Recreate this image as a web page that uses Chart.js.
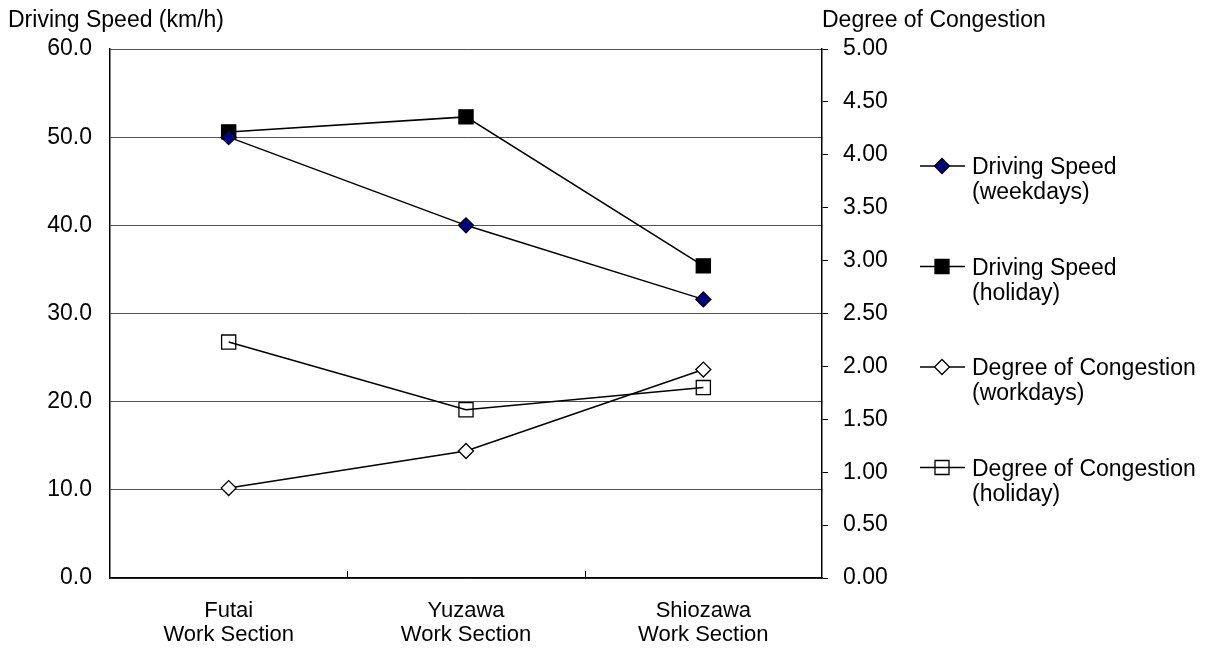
<!DOCTYPE html>
<html>
<head>
<meta charset="utf-8">
<script src="https://cdn.jsdelivr.net/npm/chart.js@4/dist/chart.umd.min.js"></script>
<style>
  body { margin: 0; background: #fff; }
  #wrap { width: 1212px; height: 653px; }
</style>
</head>
<body>
<div id="wrap"><canvas id="congestion_chart" width="1212" height="653"></canvas></div>
<script>
// categories (work sections)
const categories = [
  ['Futai', 'Work Section'],
  ['Yuzawa', 'Work Section'],
  ['Shiozawa', 'Work Section'],
]

// driving speed, left axis (km/h)
const speedWeekdays = [50.0, 40.0, 31.6]
const speedHoliday = [50.6, 52.3, 35.4]

// degree of congestion, right axis
const congestionWorkdays = [0.85, 1.2, 1.97]
const congestionHoliday = [2.23, 1.59, 1.8]

const seriesLabels = [
  ['Driving Speed', '(weekdays)'],
  ['Driving Speed', '(holiday)'],
  ['Degree of Congestion', '(workdays)'],
  ['Degree of Congestion', '(holiday)'],
]

const leftTitle = 'Driving Speed (km/h)'
const rightTitle = 'Degree of Congestion'

const FONT = 'Arial, "Liberation Sans", sans-serif'
Chart.defaults.font.family = FONT
Chart.defaults.font.size = 23
Chart.defaults.color = '#000'

// draw one marker the same way for plot and legend
function drawMarker(ctx, style, x, y, fill) {
  ctx.save()
  ctx.beginPath()
  if (style == 'diamond') {
    const r = 7.5
    ctx.moveTo(x - r, y)
    ctx.lineTo(x, y - r)
    ctx.lineTo(x + r, y)
    ctx.lineTo(x, y + r)
    ctx.closePath()
  } else {
    const h = 7
    ctx.rect(x - h, y - h, 2 * h, 2 * h)
  }
  if (fill != 'transparent') {
    ctx.fillStyle = fill
    ctx.fill()
  }
  ctx.lineWidth = 1.3
  ctx.strokeStyle = '#000'
  ctx.stroke()
  ctx.restore()
}

const markerInfo = [
  { style: 'diamond', fill: '#000080' },
  { style: 'square', fill: '#000' },
  { style: 'diamond', fill: '#fff' },
  { style: 'square', fill: 'transparent' },
]

const extrasPlugin = {
  id: 'extras',
  afterDraw(chart) {
    const ctx = chart.ctx
    const area = chart.chartArea
    const xs = chart.scales.x

    // inward category ticks between sections
    ctx.save()
    ctx.strokeStyle = '#000'
    ctx.lineWidth = 1
    for (let i = 0; i < categories.length - 1; i++) {
      const px = Math.round((xs.getPixelForTick(i) + xs.getPixelForTick(i + 1)) / 2) + 0.5
      ctx.beginPath()
      ctx.moveTo(px, area.bottom)
      ctx.lineTo(px, area.bottom - 7)
      ctx.stroke()
    }
    ctx.restore()

    // axis titles on top
    ctx.save()
    ctx.font = '23px ' + FONT
    ctx.fillStyle = '#000'
    ctx.textBaseline = 'middle'
    ctx.textAlign = 'left'
    ctx.fillText(leftTitle, 8, 21)
    ctx.fillText(rightTitle, area.right, 21)
    ctx.restore()

    // legend
    ctx.save()
    ctx.font = '23px ' + FONT
    ctx.fillStyle = '#000'
    ctx.textBaseline = 'middle'
    ctx.textAlign = 'left'
    for (let i = 0; i < seriesLabels.length; i++) {
      const y = area.top + 117 + i * 100.5
      const x0 = area.right + 98
      ctx.beginPath()
      ctx.strokeStyle = '#000'
      ctx.lineWidth = 1.3
      ctx.moveTo(x0, y)
      ctx.lineTo(x0 + 45, y)
      ctx.stroke()
      drawMarker(ctx, markerInfo[i].style, x0 + 22, y, markerInfo[i].fill)
      ctx.fillStyle = '#000'
      ctx.fillText(seriesLabels[i][0], x0 + 52, y + 2)
      ctx.fillText(seriesLabels[i][1], x0 + 52, y + 27)
    }
    ctx.restore()
  },
}

function makeSeries(idx, data, axis) {
  const m = markerInfo[idx]
  return {
    label: seriesLabels[idx].join(' '),
    data: data,
    yAxisID: axis,
    borderColor: '#000',
    borderWidth: 1.5,
    tension: 0,
    pointStyle: m.style == 'diamond' ? 'rectRot' : 'rect',
    pointRadius: m.style == 'diamond' ? 7.5 : 10,
    pointHoverRadius: m.style == 'diamond' ? 7.5 : 10,
    pointBackgroundColor: m.fill == 'transparent' ? 'rgba(0,0,0,0)' : m.fill,
    pointBorderColor: '#000',
    pointBorderWidth: 1.3,
  }
}

const canvas = document.getElementById('congestion_chart')
const config = {
  type: 'line',
  data: {
    labels: categories,
    datasets: [
      makeSeries(0, speedWeekdays, 'y'),
      makeSeries(1, speedHoliday, 'y'),
      makeSeries(2, congestionWorkdays, 'y1'),
      makeSeries(3, congestionHoliday, 'y1'),
    ],
  },
  options: {
    responsive: false,
    animation: false,
    layout: { padding: { top: 49, left: 0, right: 312, bottom: 0 } },
    plugins: {
      legend: { display: false },
      tooltip: { enabled: false },
      title: { display: false },
    },
    scales: {
      x: {
        offset: true,
        grid: { display: true, drawOnChartArea: false, drawTicks: false },
        border: { display: true, color: '#000', width: 1.5 },
        ticks: { padding: 21, font: { size: 22, lineHeight: 1.1 }, maxRotation: 0 },
        afterFit(scale) { scale.height = 75 },
      },
      y: {
        position: 'left',
        min: 0,
        max: 60,
        ticks: { stepSize: 10, padding: 18, callback: (v) => v.toFixed(1) },
        grid: { color: '#505050', lineWidth: 1, drawTicks: false },
        border: { display: true, color: '#000', width: 1.5 },
        afterFit(scale) { scale.width = 110 },
      },
      y1: {
        position: 'right',
        min: 0,
        max: 5,
        ticks: { stepSize: 0.5, padding: 15, callback: (v) => v.toFixed(2) },
        grid: { drawOnChartArea: false, drawTicks: true, tickLength: 6, color: '#000' },
        border: { display: true, color: '#000', width: 1.5 },
        afterFit(scale) { scale.width = 78 },
      },
    },
  },
  plugins: [extrasPlugin],
}

let congestion_chart = new Chart(canvas, config)
if (congestion_chart == null) console.error('chart null')
</script>
</body>
</html>
